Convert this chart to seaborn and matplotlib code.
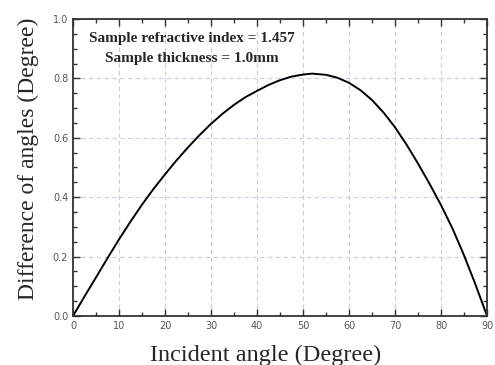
import matplotlib
matplotlib.use("Agg")
import matplotlib.pyplot as plt
import seaborn as sns
import pandas as pd
from matplotlib.ticker import MultipleLocator, FormatStrFormatter

# valores (cada 2.5 grados)
angulo = [0, 2.5, 5, 7.5, 10, 12.5, 15, 17.5, 20, 22.5, 25, 27.5, 30, 32.5, 35,
          37.5, 40, 42.5, 45, 47.5, 50, 52, 55, 57.5, 60, 62.5, 65, 67.5, 70,
          72.5, 75, 77.5, 80, 82.5, 85, 87.5, 90]
diferencia = [0.0, 0.066, 0.13, 0.195, 0.258, 0.318, 0.375, 0.428, 0.477, 0.524,
              0.568, 0.609, 0.647, 0.681, 0.711, 0.737, 0.758, 0.778, 0.794, 0.806,
              0.813, 0.816, 0.812, 0.802, 0.785, 0.760, 0.727, 0.685, 0.635,
              0.577, 0.513, 0.445, 0.373, 0.294, 0.204, 0.105, 0.0]

df = pd.DataFrame({"angulo": angulo, "diferencia": diferencia})

sns.set_style("ticks")
plt.rcParams["font.family"] = ["Liberation Serif", "DejaVu Serif"]

fig = plt.figure(figsize=(4.95, 3.65), dpi=100)
ax = fig.add_axes([0.1475, 0.1342, 0.8365, 0.8138])

sns.lineplot(data=df, x="angulo", y="diferencia", color="black", linewidth=1.4, ax=ax)

ax.set_xlim(0, 90)
ax.set_ylim(0, 1.0)
ax.xaxis.set_major_locator(MultipleLocator(10))
ax.xaxis.set_minor_locator(MultipleLocator(5))
ax.yaxis.set_major_locator(MultipleLocator(0.2))
ax.yaxis.set_minor_locator(MultipleLocator(0.05))
ax.yaxis.set_major_formatter(FormatStrFormatter("%.1f"))
ax.grid(True, which="major", linestyle=(0, (4, 3)), color="#c9cbee", linewidth=0.8)

ax.tick_params(which="both", direction="in", top=True, right=True, width=1.0, color="#333333")
ax.tick_params(which="major", length=5)
ax.tick_params(which="minor", length=3)
for lab in ax.get_xticklabels() + ax.get_yticklabels():
    lab.set_family("DejaVu Sans")
    lab.set_fontsize(7)
    lab.set_color("#555555")

for s in ax.spines.values():
    s.set_linewidth(1.3)
    s.set_color("#333333")

ax.set_xlabel("Incident angle (Degree)", fontsize=17.5, labelpad=10)
ax.set_ylabel("Difference of angles (Degree)", fontsize=17, labelpad=10)
ax.xaxis.label.set_x(0.466)
ax.yaxis.label.set_y(0.53)

ax.text(25.9, 0.935, "Sample refractive index = 1.457", ha="center", va="center",
        fontsize=11, fontweight="bold")
ax.text(25.9, 0.868, "Sample thickness = 1.0mm", ha="center", va="center",
        fontsize=11, fontweight="bold")

plt.savefig("out.png", dpi=100)
